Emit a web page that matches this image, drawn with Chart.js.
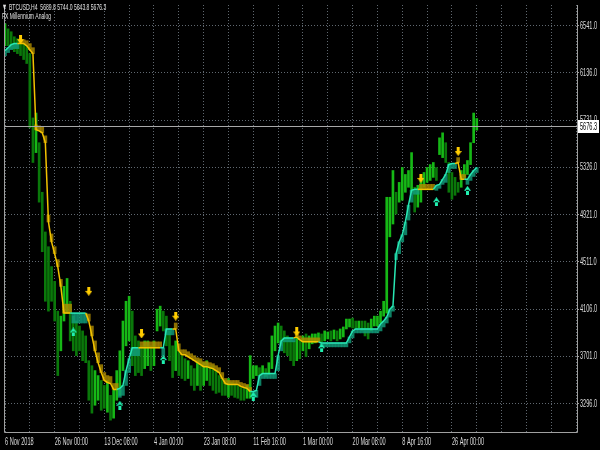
<!DOCTYPE html>
<html>
<head>
<meta charset="utf-8">
<script src="https://cdn.jsdelivr.net/npm/chart.js@4.4.1/dist/chart.umd.min.js"></script>
<style>
  html, body { margin: 0; padding: 0; background: #000; }
  canvas { display: block; }
</style>
</head>
<body>
<canvas id="chart" width="600" height="450"></canvas>
<script>
// header / price info
const symbolInfo = 'BTCUSD,H4  5689.8 5744.0 5643.8 5676.3';
const indicatorName = 'FX Millennium Analog';
const lastPrice = 5676.3;

// axis labels
const priceTicks = [6541, 6136, 5731, 5326, 4921, 4511, 4106, 3701, 3296];
const dateLabels = ['6 Nov 2018', '26 Nov 00:00', '13 Dec 08:00', '4 Jan 00:00', '23 Jan 08:00',
  '11 Feb 16:00', '1 Mar 00:00', '20 Mar 08:00', '8 Apr 16:00', '26 Apr 00:00'];

// H4 bars (high / low)
const barHigh = [
  6558, 6515, 6490, 6447, 6430, 6405, 6388, 6370, 6302, 5749,
  5791, 5536, 5110, 4769, 4642, 4471, 4344, 4088, 4045, 4301,
  4369, 4173, 4045, 4003, 3960, 3918, 3875, 3662, 3619, 3577,
  3534, 3492, 3449, 3492, 3364, 3407, 3577, 3747, 4003, 4173,
  4216, 4088, 3875, 3832, 3790, 3832, 3832, 3790, 3832, 4105,
  4131, 4088, 4045, 3918, 3790, 3832, 3747, 3705, 3679, 3662,
  3619, 3594, 3662, 3662, 3645, 3662, 3619, 3619, 3577, 3534,
  3509, 3492, 3509, 3475, 3466, 3449, 3432, 3424, 3449, 3705,
  3619, 3619, 3602, 3619, 3594, 3645, 3875, 3960, 3986, 3960,
  3918, 3875, 3849, 3832, 3866, 3832, 3875, 3892, 3875, 3892,
  3892, 3901, 3892, 3918, 3909, 3918, 3926, 3918, 3935, 3952,
  4020, 4020, 4028, 4003, 4003, 4003, 4003, 3986, 4020, 4045,
  4045, 4088, 4173, 5067, 5067, 5297, 5110, 5195, 5323, 5263,
  5297, 5451, 5153, 5170, 5212, 5280, 5323, 5348, 5366, 5323,
  5578, 5621, 5536, 5366, 5280, 5238, 5195, 5297, 5348, 5383,
  5536, 5791, 5744
];
const barLow = [
  6370, 6370, 6345, 6319, 6302, 6285, 6251, 6217, 5664, 5366,
  5451, 5025, 4599, 4173, 4088, 4173, 4003, 3534, 3747, 4003,
  4071, 3832, 3747, 3705, 3747, 3662, 3645, 3322, 3211, 3279,
  3322, 3236, 3253, 3219, 3151, 3168, 3322, 3364, 3577, 3790,
  3832, 3619, 3534, 3560, 3534, 3594, 3619, 3577, 3619, 3918,
  3960, 3918, 3790, 3662, 3517, 3577, 3534, 3509, 3492, 3509,
  3449, 3407, 3449, 3407, 3449, 3492, 3449, 3407, 3381, 3390,
  3364, 3364, 3347, 3364, 3347, 3339, 3322, 3322, 3339, 3339,
  3509, 3534, 3534, 3551, 3526, 3543, 3594, 3747, 3815, 3790,
  3730, 3705, 3662, 3619, 3662, 3679, 3747, 3696, 3764, 3807,
  3815, 3832, 3824, 3832, 3849, 3832, 3849, 3832, 3849, 3866,
  3935, 3952, 3943, 3935, 3943, 3918, 3875, 3849, 3918, 3960,
  3960, 3986, 4045, 4071, 4727, 4837, 4923, 5025, 5042, 5110,
  5153, 5110, 4940, 4982, 5025, 5153, 5195, 5212, 5238, 5212,
  5434, 5408, 5366, 5110, 5050, 5084, 5110, 5153, 5238, 5263,
  5348, 5536, 5644
];

// indicator: signal line and the far edge of its band
const signalLine = [
  6328, 6353, 6379, 6388, 6388, 6388, 6388, 6370, 6336, 6302,
  5647, 5638, 5621, 5536, 4855, 4684, 4582, 4471, 4301, 4071,
  4071, 4071, 4071, 4071, 4071, 4071, 4071, 4003, 3875, 3747,
  3645, 3560, 3492, 3475, 3466, 3415, 3415, 3424, 3449, 3577,
  3679, 3773, 3773, 3773, 3773, 3773, 3773, 3773, 3773, 3773,
  3773, 3773, 3935, 3935, 3935, 3935, 3747, 3713, 3713, 3696,
  3679, 3662, 3645, 3628, 3611, 3611, 3602, 3594, 3577, 3560,
  3509, 3466, 3458, 3458, 3458, 3458, 3441, 3432, 3424, 3398,
  3398, 3407, 3534, 3551, 3551, 3551, 3551, 3551, 3705, 3832,
  3858, 3858, 3858, 3858, 3866, 3841, 3824, 3824, 3824, 3824,
  3824, 3824, 3815, 3815, 3815, 3815, 3815, 3815, 3815, 3815,
  3815, 3866, 3918, 3935, 3935, 3935, 3935, 3935, 3935, 3935,
  3935, 3977, 4003, 4037, 4105, 4131, 4582, 4684, 4744, 4855,
  4999, 5127, 5135, 5135, 5135, 5135, 5135, 5135, 5135, 5170,
  5178, 5221, 5263, 5348, 5357, 5357, 5366, 5221, 5221, 5221,
  5263, 5297, 5323
];
const signalEdge = [
  6285, 6311, 6336, 6345, 6345, 6422, 6422, 6413, 6388, 6353,
  5689, 5681, 5672, 5595, 4914, 4752, 4642, 4531, 4361, 4148,
  4148, 4148, 3986, 3986, 3986, 3986, 3986, 4063, 3960, 3832,
  3730, 3628, 3560, 3534, 3526, 3466, 3466, 3347, 3364, 3449,
  3560, 3705, 3705, 3705, 3824, 3824, 3824, 3824, 3824, 3824,
  3824, 3705, 3884, 3884, 3884, 3986, 3807, 3756, 3756, 3739,
  3722, 3705, 3687, 3679, 3654, 3654, 3645, 3636, 3619, 3602,
  3560, 3509, 3492, 3492, 3492, 3492, 3475, 3466, 3458, 3432,
  3347, 3347, 3449, 3509, 3509, 3509, 3509, 3509, 3577, 3747,
  3824, 3824, 3824, 3824, 3892, 3875, 3858, 3858, 3858, 3858,
  3858, 3858, 3781, 3781, 3781, 3781, 3781, 3781, 3781, 3781,
  3781, 3815, 3858, 3901, 3901, 3901, 3901, 3901, 3901, 3901,
  3901, 3918, 3952, 3986, 4037, 4088, 4531, 4582, 4684, 4744,
  4871, 5025, 5093, 5093, 5178, 5178, 5178, 5178, 5178, 5127,
  5144, 5178, 5195, 5280, 5314, 5314, 5408, 5263, 5263, 5178,
  5212, 5246, 5280
];

// signal arrows
const sellBars = [5, 27, 44, 55, 94, 134, 146];
const sellPrices = [6422, 4258, 3892, 4045, 3909, 5229, 5460];
const buyBars = [22, 37, 51, 80, 102, 139, 149];
const buyPrices = [3909, 3279, 3671, 3356, 3773, 5029, 5127];

const GOLD = '#f2c200';
const GOLD_FILL = 'rgba(175,140,0,0.8)';
const TEAL = '#28e8b4';
const TEAL_FILL = 'rgba(18,160,125,0.8)';
const GRID = 'rgba(120,130,140,0.8)';
const FONT = '"Liberation Sans", Arial, sans-serif';
const SQUEEZE = 0.56;   // terminal font is very narrow

// trend flips at each arrow
const trend = [];
let dir = 1;
for (let i = 0; i < signalLine.length; i++) {
  if (sellBars.includes(i)) dir = -1;
  if (buyBars.includes(i)) dir = 1;
  trend.push(dir);
}

const candleColors = barHigh.map((h, i) => {
  const mid = (h + barLow[i]) / 2;
  const prev = i ? (barHigh[i - 1] + barLow[i - 1]) / 2 : mid;
  return mid >= prev ? '#16b816' : '#0a780a';
});

function arrowImage(color, down) {
  const c = document.createElement('canvas');
  c.width = 7; c.height = 9;
  const g = c.getContext('2d');
  g.fillStyle = color;
  g.beginPath();
  if (down) {
    g.rect(2, 0, 3, 5);
    g.moveTo(0, 4); g.lineTo(7, 4); g.lineTo(3.5, 9);
  } else {
    g.rect(2, 4, 3, 5);
    g.moveTo(0, 5); g.lineTo(7, 5); g.lineTo(3.5, 0);
  }
  g.closePath();
  g.fill();
  return c;
}

// narrow text, drawn on the chart canvas
function narrowText(ctx, text, x, y, size) {
  ctx.save();
  ctx.translate(x, y);
  ctx.scale(SQUEEZE, 1);
  ctx.font = size + 'px ' + FONT;
  ctx.fillText(text, 0, 0);
  ctx.restore();
}

const frame = {
  id: 'frame',
  afterDraw(chart) {
    const { ctx, chartArea: a, scales: { x, y } } = chart;
    ctx.save();
    // current price line
    const py = Math.round(y.getPixelForValue(lastPrice)) + 0.5;
    ctx.strokeStyle = '#a8a8a8';
    ctx.lineWidth = 1;
    ctx.beginPath();
    ctx.moveTo(a.left, py); ctx.lineTo(a.right, py);
    ctx.stroke();
    // frame
    ctx.strokeStyle = '#a0a0a0';
    ctx.beginPath();
    ctx.moveTo(a.left - 0.5, a.top);
    ctx.lineTo(a.left - 0.5, a.bottom + 0.5);
    ctx.lineTo(a.right + 0.5, a.bottom + 0.5);
    ctx.lineTo(a.right + 0.5, a.top);
    ctx.stroke();
    // price labels
    ctx.fillStyle = '#dcdcdc';
    ctx.textBaseline = 'middle';
    priceTicks.forEach(v => narrowText(ctx, v.toFixed(1), a.right + 3, y.getPixelForValue(v) + 0.5, 10));
    // date labels
    ctx.textBaseline = 'top';
    dateLabels.forEach((t, k) => narrowText(ctx, t, x.getPixelForValue(k * 16), a.bottom + 5, 10));
    // price label box
    ctx.fillStyle = '#ffffff';
    ctx.fillRect(a.right + 1, py - 6.5, 21, 13);
    ctx.fillStyle = '#000000';
    ctx.textBaseline = 'middle';
    narrowText(ctx, lastPrice.toFixed(1), a.right + 3, py + 0.5, 10);
    // header
    ctx.fillStyle = '#e0e0e0';
    ctx.textBaseline = 'alphabetic';
    narrowText(ctx, '\u25BC', 2, 10, 9);
    narrowText(ctx, symbolInfo, 9, 10, 9);
    narrowText(ctx, indicatorName, 2, 19, 9);
    ctx.restore();
  }
};

new Chart(document.getElementById('chart'), {
  type: 'bar',
  data: {
    datasets: [
      {
        label: 'Bars',
        data: barHigh.map((h, i) => ({ x: i, y: [barLow[i], h] })),
        backgroundColor: candleColors,
        barThickness: 2,
        grouped: false,
        order: 4
      },
      {
        label: 'Band',
        data: signalLine.map((v, i) => ({ x: i, y: [v, signalEdge[i]] })),
        backgroundColor: trend.map(t => t > 0 ? TEAL_FILL : GOLD_FILL),
        barThickness: 3,
        grouped: false,
        order: 3
      },
      {
        type: 'line',
        label: 'Signal',
        data: signalLine.map((v, i) => ({ x: i, y: v })),
        borderWidth: 1.5,
        pointRadius: 0,
        segment: { borderColor: c => trend[c.p1DataIndex] > 0 ? TEAL : GOLD },
        order: 2
      },
      {
        type: 'scatter',
        label: 'Sell',
        data: sellBars.map((b, i) => ({ x: b, y: sellPrices[i] })),
        pointStyle: arrowImage('#ffcc00', true),
        order: 1
      },
      {
        type: 'scatter',
        label: 'Buy',
        data: buyBars.map((b, i) => ({ x: b, y: buyPrices[i] })),
        pointStyle: arrowImage('#20f0b0', false),
        order: 1
      }
    ]
  },
  options: {
    responsive: false,
    animation: false,
    layout: { padding: { left: 1, top: 1, right: 0, bottom: 0 } },
    plugins: { legend: { display: false }, tooltip: { enabled: false } },
    scales: {
      x: {
        type: 'linear',
        offset: false,
        min: 0,
        max: 184.3,
        afterFit: s => { s.height = 18; },
        afterBuildTicks: s => {
          s.ticks = [];
          for (let v = 0; v <= 184; v += 8) s.ticks.push({ value: v });
        },
        ticks: { display: false },
        grid: { color: GRID, drawTicks: false, offset: false },
        border: { display: false, dash: [1, 2] }
      },
      y: {
        position: 'right',
        min: 3049,
        max: 6720,
        afterFit: s => { s.width = 23; },
        afterBuildTicks: s => { s.ticks = priceTicks.map(v => ({ value: v })); },
        ticks: { display: false },
        grid: { color: GRID, drawTicks: true, tickLength: 2, tickColor: '#a0a0a0' },
        border: { display: false, dash: [1, 2] }
      }
    }
  },
  plugins: [frame]
});
</script>
</body>
</html>
